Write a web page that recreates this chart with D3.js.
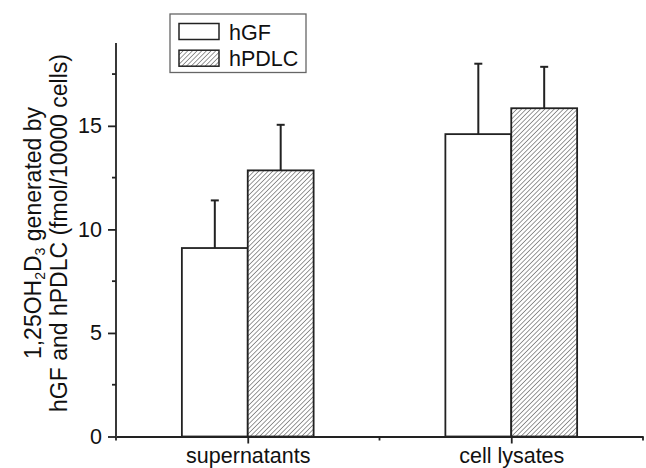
<!DOCTYPE html>
<html><head><meta charset="utf-8">
<script src="https://cdn.jsdelivr.net/npm/d3@7"></script>
<style>body{margin:0;background:#fff}svg{display:block}</style>
</head><body>
<svg id="c" width="646" height="468"></svg>
<script>
const categories = ["supernatants", "cell lysates"];
const seriesNames = ["hGF", "hPDLC"];
const hGF = [9.1, 14.6];
const hGFErr = [2.3, 3.4];
const hPDLC = [12.85, 15.85];
const hPDLCErr = [2.2, 2.0];
const yTicks = [0, 5, 10, 15];
const yMinorTicks = [2.5, 7.5, 12.5, 17.5];

const svg = d3.select("#c");
const font = "'Liberation Sans', Arial, Helvetica, sans-serif";
const axisColor = "#222";

const x = d3.scaleLinear().domain([0.5, 2.5]).range([116, 643]);
const y = d3.scaleLinear().domain([0, 19]).range([436.5, 43]);
const barW = 0.25;

// hatch pattern
const defs = svg.append("defs");
const pat = defs.append("pattern").attr("id", "hatch").attr("patternUnits", "userSpaceOnUse")
  .attr("width", 3.3).attr("height", 3.3).attr("patternTransform", "rotate(45)");
pat.append("rect").attr("width", 3.3).attr("height", 3.3).attr("fill", "#fff");
pat.append("line").attr("x1", 0).attr("y1", 0).attr("x2", 0).attr("y2", 3.3)
  .attr("stroke", "#555").attr("stroke-width", 1.2);

const data = [];
categories.forEach((c, i) => {
  data.push({cat: i + 1, v: hGF[i], e: hGFErr[i], s: 0});
  data.push({cat: i + 1, v: hPDLC[i], e: hPDLCErr[i], s: 1});
});

// error bars
const eb = svg.append("g").attr("stroke", axisColor).attr("stroke-width", 2);
data.forEach(d => {
  const cx = x(d.cat + (d.s === 0 ? -barW / 2 : barW / 2));
  eb.append("line").attr("x1", cx).attr("x2", cx).attr("y1", y(d.v)).attr("y2", y(d.v + d.e));
  eb.append("line").attr("x1", cx - 4).attr("x2", cx + 4).attr("y1", y(d.v + d.e)).attr("y2", y(d.v + d.e));
});

// bars
svg.append("g").selectAll("rect").data(data).join("rect")
  .attr("x", d => x(d.s === 0 ? d.cat - barW : d.cat))
  .attr("width", d => x(d.cat + barW) - x(d.cat))
  .attr("y", d => y(d.v))
  .attr("height", d => y(0) - y(d.v))
  .attr("fill", d => d.s === 0 ? "#fff" : "url(#hatch)")
  .attr("stroke", axisColor).attr("stroke-width", 1.8);

// y axis
const yAxis = svg.append("g").attr("transform", `translate(${x(0.5)},0)`)
  .call(d3.axisLeft(y).tickValues(yTicks).tickSize(8).tickPadding(6).tickSizeOuter(0));
yAxis.select(".domain").attr("d", `M0,${y(0)}V${y(19)}`);
yAxis.selectAll(".tick line").attr("stroke-width", 1.8);
yAxis.append("g").selectAll("line").data(yMinorTicks).join("line")
  .attr("x1", -4).attr("x2", 0).attr("y1", d => y(d)).attr("y2", d => y(d))
  .attr("stroke", axisColor).attr("stroke-width", 1.8);
yAxis.selectAll("text").attr("font-size", 21.5).attr("font-family", font).attr("fill", "#111");

// x axis
const xAxis = svg.append("g").attr("transform", `translate(0,${y(0)})`)
  .call(d3.axisBottom(x).tickValues([1, 2]).tickFormat((d, i) => categories[i]).tickSize(7).tickPadding(4).tickSizeOuter(0));
xAxis.selectAll(".tick line").attr("stroke-width", 1.8);
xAxis.append("g").selectAll("line").data([0.5, 1.5, 2.5]).join("line")
  .attr("x1", d => x(d)).attr("x2", d => x(d)).attr("y1", 0).attr("y2", 4)
  .attr("stroke", axisColor).attr("stroke-width", 1.8);
xAxis.selectAll("text").attr("font-size", 21.5).attr("font-family", font).attr("fill", "#111");
svg.selectAll(".domain").attr("stroke", axisColor).attr("stroke-width", 1.8);
svg.selectAll(".tick line").attr("stroke", axisColor);

// y title
const yt = svg.append("text").attr("transform", "translate(0,233) rotate(-90)")
  .attr("text-anchor", "middle").attr("font-family", font).attr("font-size", 23).attr("fill", "#111");
const l1 = yt.append("tspan").attr("x", 0).attr("y", 41);
l1.append("tspan").text("1,25OH");
l1.append("tspan").attr("font-size", 14).attr("dy", 4).text("2");
l1.append("tspan").attr("dy", -4).text("D");
l1.append("tspan").attr("font-size", 14).attr("dy", 4).text("3");
l1.append("tspan").attr("dy", -4).text(" generated by");
yt.append("tspan").attr("x", 0).attr("y", 67).text("hGF and hPDLC  (fmol/10000 cells)");

// legend
const lg = svg.append("g");
lg.append("rect").attr("x", 170).attr("y", 14).attr("width", 136).attr("height", 58.5)
  .attr("fill", "#fff").attr("stroke", "#666").attr("stroke-width", 1.3);
seriesNames.forEach((n, i) => {
  lg.append("rect").attr("x", 179).attr("y", 23.5 + i * 26.7).attr("width", 40).attr("height", 16)
    .attr("fill", i === 0 ? "#fff" : "url(#hatch)").attr("stroke", axisColor).attr("stroke-width", 1.5);
  lg.append("text").attr("x", 229).attr("y", 39.5 + i * 26.7).attr("font-family", font).attr("font-size", 21.5)
    .attr("fill", "#111").text(n);
});
</script>
</body></html>
